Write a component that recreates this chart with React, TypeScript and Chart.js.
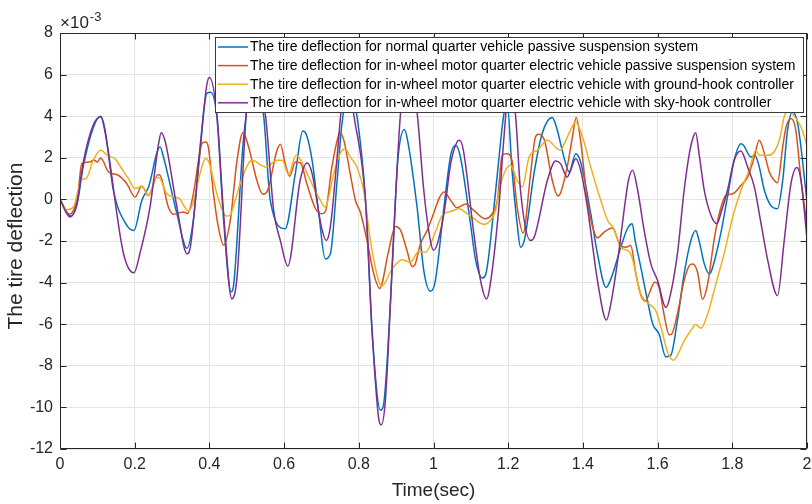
import React, { useEffect, useRef } from 'react';
import { Chart, registerables } from 'chart.js';

Chart.register(...registerables);

// Values are in units of 1e-3 (the axis shows "×10^-3")
const xTickValues = [0, 0.2, 0.4, 0.6, 0.8, 1, 1.2, 1.4, 1.6, 1.8, 2];
const yTickValues = [-12, -10, -8, -6, -4, -2, 0, 2, 4, 6, 8];

const xTitle = 'Time(sec)';
const yTitle = 'The tire deflection';

const seriesLabels = [
  'The tire deflection for normal quarter vehicle passive suspension system',
  'The tire deflection for in-wheel motor quarter electric vehicle passive suspension system',
  'The tire deflection for in-wheel motor quarter electric vehicle with ground-hook controller',
  'The tire deflection for in-wheel motor quarter electric vehicle with sky-hook controller',
];
const seriesColors = ['#0072BD', '#D95319', '#EDB120', '#7E2F8E'];

// Series 1: normal quarter vehicle, passive
const normalPassiveT = [0, 0.027, 0.045, 0.0625, 0.089, 0.109, 0.12, 0.143, 0.179, 0.198, 0.219, 0.237, 0.268, 0.277, 0.313, 0.34, 0.357, 0.375, 0.393, 0.403, 0.42, 0.438, 0.458, 0.465, 0.491, 0.518, 0.545, 0.563, 0.603, 0.63, 0.65, 0.66, 0.675, 0.693, 0.71, 0.724, 0.742, 0.755, 0.775, 0.795, 0.818, 0.836, 0.858, 0.866, 0.885, 0.898, 0.905, 0.922, 0.93, 0.956, 0.974, 0.992, 1.005, 1.028, 1.046, 1.059, 1.072, 1.099, 1.113, 1.131, 1.14, 1.162, 1.18, 1.188, 1.197, 1.211, 1.224, 1.233, 1.244, 1.269, 1.291, 1.318, 1.327, 1.354, 1.363, 1.381, 1.394, 1.421, 1.439, 1.462, 1.475, 1.505, 1.519, 1.532, 1.54, 1.555, 1.573, 1.587, 1.604, 1.622, 1.635, 1.653, 1.671, 1.689, 1.702, 1.711, 1.725, 1.738, 1.745, 1.769, 1.787, 1.805, 1.823, 1.83, 1.85, 1.86, 1.87, 1.886, 1.903, 1.921, 1.935, 1.948, 1.961, 1.975, 2.0];
const normalPassiveV = [0, -0.8, -0.3, 1.6, 3.45, 4.0, 3.4, 0.43, -1.25, -1.49, -0.05, 0.6, 2.52, 2.04, -0.69, -2.35, -1.0, 2.3, 5.1, 5.15, 3.97, -1.0, -4.45, -4.1, 2.84, 5.6, 4.05, -0.05, -1.41, 1.24, 3.29, 3.1, 1.88, -0.69, -2.86, -2.6, 0.92, 3.65, 5.3, 4.0, -0.05, -6.46, -10.14, -9.9, -4.87, -0.05, 2.0, 3.36, 2.9, -0.37, -3.42, -4.42, -3.9, -0.37, 2.12, 2.6, 2.04, -1.17, -2.94, -3.78, -3.6, -0.37, 2.84, 4.05, 4.6, 1.24, -1.17, -2.3, -1.9, 1.24, 3.17, 3.94, 3.6, 1.72, 1.33, 2.2, 1.8, -0.69, -2.62, -4.23, -3.82, -2.1, -1.41, -1.17, -1.98, -3.26, -4.87, -5.99, -6.47, -7.57, -7.5, -5.83, -3.58, -1.98, -1.49, -1.98, -3.1, -3.58, -3.4, -1.65, 0.11, 1.88, 2.68, 2.6, 2.04, 2.12, 1.72, 0.43, -0.29, -0.45, 0.92, 3.33, 4.2, 3.65, -0.1];

// Series 2: in-wheel motor EV, passive
const inWheelPassiveT = [0, 0.025, 0.036, 0.049, 0.058, 0.08, 0.09, 0.1, 0.109, 0.13, 0.156, 0.179, 0.201, 0.219, 0.237, 0.262, 0.268, 0.29, 0.304, 0.317, 0.33, 0.342, 0.357, 0.371, 0.38, 0.39, 0.397, 0.411, 0.424, 0.438, 0.456, 0.474, 0.49, 0.505, 0.527, 0.543, 0.555, 0.581, 0.59, 0.603, 0.615, 0.63, 0.644, 0.661, 0.684, 0.7, 0.71, 0.728, 0.742, 0.749, 0.76, 0.777, 0.791, 0.804, 0.822, 0.84, 0.856, 0.88, 0.898, 0.912, 0.929, 0.943, 0.95, 0.965, 0.983, 1.0, 1.015, 1.028, 1.046, 1.063, 1.086, 1.108, 1.139, 1.157, 1.171, 1.184, 1.196, 1.21, 1.224, 1.24, 1.26, 1.273, 1.282, 1.297, 1.318, 1.333, 1.34, 1.358, 1.372, 1.382, 1.394, 1.412, 1.43, 1.439, 1.457, 1.479, 1.5, 1.515, 1.528, 1.542, 1.555, 1.568, 1.577, 1.592, 1.604, 1.617, 1.631, 1.638, 1.653, 1.671, 1.685, 1.694, 1.707, 1.72, 1.734, 1.751, 1.765, 1.783, 1.801, 1.823, 1.841, 1.859, 1.872, 1.886, 1.899, 1.912, 1.921, 1.935, 1.944, 1.957, 1.97, 1.984, 2.0];
const inWheelPassiveV = [0, -0.7, -0.53, 0.43, 1.72, 1.8, 1.9, 1.8, 1.99, 1.32, 1.16, 0.75, 0.11, 0.63, 0.19, 1.19, 1.16, -0.37, -0.72, -0.66, -0.6, -0.68, 0.27, 1.88, 2.68, 2.76, 2.52, 0.27, -1.33, -2.2, -1.0, 1.88, 3.22, 2.52, 0.92, 0.25, 0.4, 2.36, 2.65, 1.72, 1.11, 1.8, 1.75, 0.75, -0.45, -0.69, -0.6, 1.56, 2.84, 3.23, 2.84, 1.24, -0.05, -0.61, -1.98, -3.58, -4.28, -2.46, -1.3, -1.49, -2.46, -3.23, -3.15, -2.14, -1.49, -0.69, 0.05, 0.35, -0.05, -0.4, -0.22, -0.53, -0.93, -0.69, -0.05, 2.12, 2.2, 1.88, -0.37, -1.62, 1.24, 3.0, 3.13, 2.84, 0.92, 0.16, 0.3, 1.56, 3.0, 3.94, 2.8, -0.05, -1.57, -1.85, -1.57, -1.38, -2.2, -2.3, -2.22, -3.6, -4.6, -4.9, -4.55, -3.98, -4.22, -5.51, -6.51, -6.47, -5.51, -3.9, -3.18, -3.1, -3.5, -4.8, -4.06, -1.98, -0.69, 0.19, 0.27, 0.67, 1.07, 2.04, 2.84, 2.2, 1.32, 0.92, 0.8, 2.52, 3.48, 3.89, 3.33, 0.92, -1.2];

// Series 3: in-wheel motor EV, ground-hook controller
const groundHookT = [0, 0.018, 0.036, 0.058, 0.07, 0.089, 0.109, 0.13, 0.147, 0.165, 0.183, 0.201, 0.219, 0.237, 0.259, 0.268, 0.286, 0.308, 0.32, 0.344, 0.357, 0.375, 0.39, 0.4, 0.42, 0.445, 0.455, 0.469, 0.487, 0.514, 0.55, 0.582, 0.595, 0.612, 0.632, 0.645, 0.67, 0.697, 0.71, 0.733, 0.75, 0.764, 0.777, 0.795, 0.813, 0.831, 0.853, 0.862, 0.889, 0.916, 0.938, 0.961, 0.979, 1.005, 1.023, 1.046, 1.068, 1.09, 1.108, 1.135, 1.153, 1.166, 1.18, 1.206, 1.224, 1.238, 1.256, 1.278, 1.305, 1.331, 1.34, 1.35, 1.376, 1.38, 1.399, 1.421, 1.448, 1.466, 1.483, 1.501, 1.519, 1.53, 1.555, 1.577, 1.595, 1.609, 1.627, 1.643, 1.653, 1.671, 1.689, 1.702, 1.716, 1.734, 1.756, 1.778, 1.801, 1.823, 1.845, 1.863, 1.872, 1.895, 1.912, 1.926, 1.939, 1.948, 1.962, 1.984, 2.0];
const groundHookV = [0, -0.5, -0.37, 0.95, 1.0, 1.88, 2.36, 2.07, 1.96, 1.48, 1.0, 0.52, 0.63, 0.19, 1.07, 1.0, 0.27, 0.11, 0.03, -0.56, -0.13, 1.24, 1.98, 1.72, 0.27, -0.8, -0.77, -0.05, 1.0, 1.88, 1.56, 1.88, 1.88, 1.2, 2.12, 1.88, 0.92, -0.05, -0.37, 1.24, 2.2, 2.44, 2.04, 1.56, 0.43, -1.98, -3.9, -4.17, -3.34, -2.9, -3.02, -2.49, -2.54, -1.57, -0.77, -0.58, -0.45, -0.69, -0.93, -1.2, -1.0, -0.53, 0.75, 1.64, 0.92, 0.6, 2.04, 2.36, 2.84, 2.44, 2.36, 2.68, 3.65, 3.73, 3.0, 1.56, -0.05, -1.0, -1.41, -2.3, -2.45, -2.7, -4.55, -5.03, -5.35, -6.15, -7.36, -7.73, -7.5, -6.8, -6.31, -6.02, -6.19, -5.51, -4.06, -2.62, -0.85, 0.43, 1.4, 2.36, 2.12, 2.12, 2.28, 2.84, 3.97, 4.29, 4.1, 3.48, 2.6];

// Series 4: in-wheel motor EV, sky-hook controller
const skyHookT = [0, 0.027, 0.045, 0.0625, 0.089, 0.109, 0.12, 0.17, 0.198, 0.214, 0.241, 0.264, 0.271, 0.282, 0.313, 0.34, 0.349, 0.375, 0.393, 0.4, 0.42, 0.438, 0.46, 0.474, 0.5, 0.52, 0.55, 0.572, 0.59, 0.61, 0.643, 0.662, 0.675, 0.7, 0.713, 0.724, 0.742, 0.752, 0.77, 0.786, 0.818, 0.836, 0.853, 0.86, 0.871, 0.885, 0.898, 0.912, 0.934, 0.956, 0.974, 0.99, 1.0, 1.028, 1.046, 1.063, 1.07, 1.08, 1.108, 1.126, 1.142, 1.15, 1.175, 1.188, 1.205, 1.22, 1.233, 1.26, 1.27, 1.305, 1.327, 1.34, 1.358, 1.365, 1.381, 1.394, 1.412, 1.439, 1.463, 1.475, 1.493, 1.515, 1.522, 1.533, 1.546, 1.564, 1.582, 1.6, 1.622, 1.63, 1.653, 1.671, 1.685, 1.694, 1.702, 1.711, 1.725, 1.743, 1.759, 1.769, 1.787, 1.805, 1.823, 1.841, 1.859, 1.877, 1.895, 1.921, 1.939, 1.957, 1.973, 1.984, 2.0];
const skyHookV = [0, -0.85, -0.2, 1.8, 3.57, 3.97, 3.3, -2.6, -3.53, -2.6, -0.37, 2.68, 3.21, 2.76, -0.37, -2.62, -2.3, 2.52, 5.5, 5.86, 4.1, -0.68, -4.78, -3.74, 4.45, 6.2, 4.05, -0.53, -1.98, -3.2, 0.92, 1.75, 1.24, -1.33, -1.98, -1.3, 2.04, 4.13, 6.0, 4.13, -0.05, -6.46, -10.5, -10.84, -9.69, -4.87, -0.05, 4.2, 6.5, 4.2, 0.43, -1.81, -2.45, -0.68, 1.72, 2.76, 2.84, 2.36, -1.65, -3.9, -4.79, -4.3, -0.37, 2.84, 5.8, 3.97, 0.43, -1.98, -1.8, 0.92, 1.85, 1.72, 1.07, 1.3, 1.96, 1.4, -0.37, -3.9, -5.8, -5.0, -2.94, 0.11, 0.92, 1.4, 0.5, -1.49, -3.1, -3.9, -5.19, -4.9, -2.62, 0.43, 2.2, 2.92, 3.2, 2.2, 0.43, -0.77, -1.17, -0.69, 0.43, 1.88, 2.33, 1.56, 0.6, -1.17, -2.94, -4.63, -1.98, 0.75, 1.53, 0.92, -1.9];

const seriesT = [normalPassiveT, inWheelPassiveT, groundHookT, skyHookT];
const seriesV = [normalPassiveV, inWheelPassiveV, groundHookV, skyHookV];

const AXIS_COLOR = '#262626';
const FONT = "'Liberation Sans', Arial, Helvetica, sans-serif";

const decorPlugin = {
  id: 'matlabDecor',
  afterDatasetsDraw(chart: any) {
    const { ctx, chartArea: a, scales } = chart;
    const xs = scales.x;
    const ys = scales.y;
    const L = Math.round(a.left) + 0.5;
    const R = Math.round(a.right) - 0.5;
    const T = Math.round(a.top) + 0.5;
    const B = Math.round(a.bottom) - 0.5;
    ctx.save();
    ctx.strokeStyle = AXIS_COLOR;
    ctx.lineWidth = 1;
    ctx.beginPath();
    ctx.rect(L, T, R - L, B - T);
    ctx.stroke();
    const tk = 6;
    ctx.beginPath();
    xTickValues.forEach((v) => {
      const px = Math.round(xs.getPixelForValue(v)) + 0.5;
      ctx.moveTo(px, B);
      ctx.lineTo(px, B - tk);
      ctx.moveTo(px, T);
      ctx.lineTo(px, T + tk);
    });
    yTickValues.forEach((v) => {
      const py = Math.round(ys.getPixelForValue(v)) + 0.5;
      ctx.moveTo(L, py);
      ctx.lineTo(L + tk, py);
      ctx.moveTo(R, py);
      ctx.lineTo(R - tk, py);
    });
    ctx.stroke();

    // exponent label
    ctx.fillStyle = AXIS_COLOR;
    ctx.textBaseline = 'alphabetic';
    ctx.textAlign = 'left';
    ctx.font = `17px ${FONT}`;
    ctx.fillText('\u00d710', 60, 28);
    const w = ctx.measureText('\u00d710').width;
    ctx.font = `13px ${FONT}`;
    ctx.fillText('-3', 60 + w + 1, 21);

    // y axis title
    ctx.save();
    ctx.translate(22, 246);
    ctx.rotate(-Math.PI / 2);
    ctx.font = `21px ${FONT}`;
    ctx.textAlign = 'center';
    ctx.textBaseline = 'alphabetic';
    ctx.fillStyle = AXIS_COLOR;
    ctx.fillText(yTitle, 0, 0);
    ctx.restore();

    // legend box
    const bx = 215.5, by = 37.5, bw = 588, bh = 75;
    ctx.fillStyle = '#ffffff';
    ctx.fillRect(bx, by, bw, bh);
    ctx.strokeStyle = '#3a3a3a';
    ctx.lineWidth = 1;
    ctx.strokeRect(bx, by, bw, bh);
    ctx.font = `14px ${FONT}`;
    ctx.textBaseline = 'middle';
    ctx.textAlign = 'left';
    seriesLabels.forEach((lab, i) => {
      const cy = 47 + i * 18.6;
      ctx.strokeStyle = seriesColors[i];
      ctx.lineWidth = 1.5;
      ctx.beginPath();
      ctx.moveTo(218, cy);
      ctx.lineTo(248, cy);
      ctx.stroke();
      ctx.fillStyle = '#000000';
      ctx.fillText(lab, 250, cy + 0.5);
    });
    ctx.restore();
  },
};

export default function App() {
  const canvasRef = useRef<HTMLCanvasElement | null>(null);

  useEffect(() => {
    const canvas = canvasRef.current;
    if (!canvas) return;
    const order = [3, 2, 1, 0];
    const datasets = seriesLabels.map((label, i) => ({
      label,
      data: seriesT[i].map((t, k) => ({ x: t, y: seriesV[i][k] })),
      borderColor: seriesColors[i],
      backgroundColor: seriesColors[i],
      borderWidth: 1.5,
      pointRadius: 0,
      fill: false,
      cubicInterpolationMode: 'monotone' as const,
      order: order[i],
    }));

    const chart = new Chart(canvas, {
      type: 'line',
      data: { datasets },
      plugins: [decorPlugin],
      options: {
        animation: false,
        responsive: false,
        devicePixelRatio: 1,
        layout: { padding: { top: 33, right: 5, left: 0, bottom: 0 } },
        plugins: { legend: { display: false }, tooltip: { enabled: false } },
        scales: {
          x: {
            type: 'linear',
            min: 0,
            max: 2,
            afterFit: (s: any) => {
              s.height = 55;
              s.paddingLeft = 0;
              s.paddingRight = 0;
            },
            afterBuildTicks: (s: any) => {
              s.ticks = xTickValues.map((v) => ({ value: v }));
            },
            ticks: {
              autoSkip: false,
              maxRotation: 0,
              padding: 6,
              color: AXIS_COLOR,
              font: { family: FONT, size: 16 },
              callback: (v: any) => String(Math.round(Number(v) * 10) / 10),
            },
            grid: { color: '#e4e4e4', lineWidth: 1, drawTicks: false },
            border: { display: false },
            title: {
              display: true,
              text: xTitle,
              color: AXIS_COLOR,
              font: { family: FONT, size: 19 },
              padding: { top: 0, bottom: 2 },
            },
          },
          y: {
            type: 'linear',
            min: -12,
            max: 8,
            afterFit: (s: any) => {
              s.width = 60;
              s.paddingTop = 0;
              s.paddingBottom = 0;
            },
            afterBuildTicks: (s: any) => {
              s.ticks = yTickValues.map((v) => ({ value: v }));
            },
            ticks: {
              autoSkip: false,
              padding: 7,
              color: AXIS_COLOR,
              font: { family: FONT, size: 16 },
              callback: (v: any) => String(v),
            },
            grid: { color: '#e4e4e4', lineWidth: 1, drawTicks: false },
            border: { display: false },
            title: { display: false },
          },
        },
      },
    });
    return () => chart.destroy();
  }, []);

  return (
    <div style={{ position: 'fixed', left: 0, top: 0, width: 812, height: 504, background: '#fff' }}>
      <canvas ref={canvasRef} width={812} height={504} style={{ display: 'block' }} />
    </div>
  );
}
